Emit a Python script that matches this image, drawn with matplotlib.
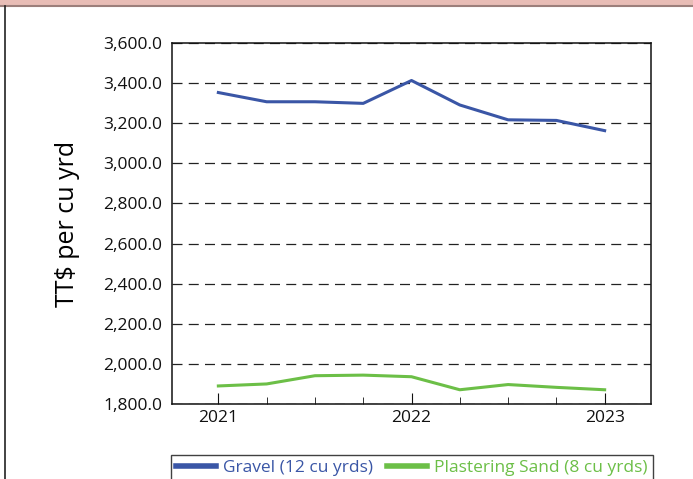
import matplotlib.pyplot as plt
from matplotlib.patches import Rectangle
from matplotlib.lines import Line2D
from matplotlib.ticker import FuncFormatter, MultipleLocator

plt.rcParams['font.family'] = ['Open Sans', 'DejaVu Sans']

# quarterly observations, 2021 Q1 .. 2023 Q1
periods = [2021.0, 2021.25, 2021.5, 2021.75, 2022.0, 2022.25, 2022.5, 2022.75, 2023.0]
gravel = [3353, 3307, 3307, 3299, 3413, 3291, 3217, 3214, 3163]
sand = [1890, 1900, 1941, 1944, 1936, 1871, 1897, 1883, 1871]
year_ticks = [2021, 2022, 2023]

blue = '#3a56a6'
green = '#6cbf47'

fig = plt.figure(figsize=(6.93, 4.79), dpi=100)

# header band and frame
fig.patches.append(Rectangle((0, 1 - 5 / 479), 1, 5 / 479, transform=fig.transFigure,
                             facecolor='#e8bdb6', edgecolor='none', zorder=0))
fig.lines.append(Line2D([0, 1], [1 - 5.5 / 479] * 2, transform=fig.transFigure,
                        color='#9c7f7b', lw=1.5))
fig.lines.append(Line2D([5 / 693] * 2, [0, 1 - 6 / 479], transform=fig.transFigure,
                        color='#222222', lw=1.2))

ax = fig.add_axes([172 / 693, 1 - 404 / 479, 479 / 693, 361 / 479])
ax.plot(periods, gravel, color=blue, lw=2.2, label='Gravel (12 cu yrds)')
ax.plot(periods, sand, color=green, lw=2.2, label='Plastering Sand (8 cu yrds)')

ax.set_ylim(1800, 3600)
ax.set_xlim(2020.76, 2023.24)
ax.yaxis.set_major_locator(MultipleLocator(200))
ax.yaxis.set_major_formatter(FuncFormatter(lambda v, p: f'{v:,.1f}'))
ax.set_xticks(year_ticks)
ax.set_xticklabels([str(y) for y in year_ticks])
ax.xaxis.set_minor_locator(MultipleLocator(0.25))
ax.tick_params(axis='both', which='both', direction='in', labelsize=12.5, colors='#111111')
ax.tick_params(axis='x', which='major', length=8, pad=4)
ax.tick_params(axis='x', which='minor', length=5)
ax.tick_params(axis='y', length=0, pad=7)
ax.grid(axis='y', color='#222222', ls=(0, (8, 5)), lw=0.9)
for s in ax.spines.values():
    s.set_linewidth(1.1)
    s.set_color('#111111')

ax.set_ylabel('TT$ per cu yrd', fontsize=18, labelpad=17)

leg = fig.legend(loc='upper left', bbox_to_anchor=(171 / 693, 1 - 455 / 479),
                 ncol=2, frameon=True, fancybox=False, edgecolor='#111111',
                 fontsize=12.5, labelcolor='linecolor', handlelength=2.3,
                 borderpad=0.3, columnspacing=0.8, handletextpad=0.4,
                 borderaxespad=0)
leg.get_frame().set_linewidth(1.0)
for h in leg.legend_handles:
    h.set_linewidth(4)

fig.savefig('out.png', dpi=100)
